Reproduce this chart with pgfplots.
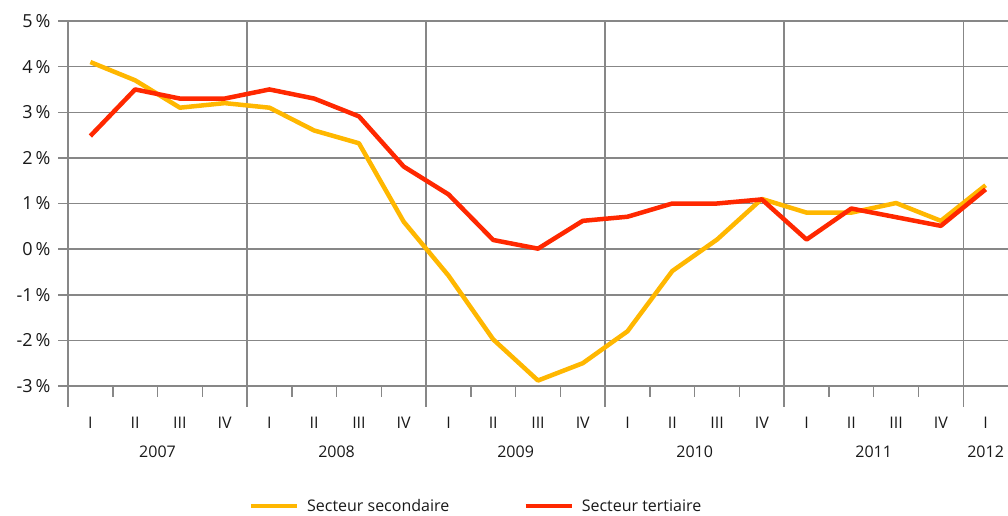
\documentclass[border=0pt]{standalone}
\usepackage{fontspec}
\setmainfont{Open Sans}
\usepackage{pgfplots}
\pgfplotsset{compat=1.18}
\definecolor{sec}{RGB}{255,183,0}
\definecolor{ter}{RGB}{255,40,0}
\definecolor{gridc}{RGB}{135,135,135}
\definecolor{txt}{RGB}{25,25,25}
\begin{document}
\begin{tikzpicture}[font=\fontsize{16}{19}\selectfont]
\useasboundingbox (0pt,0pt) rectangle (1008pt,516pt);
\begin{axis}[
  at={(68pt,130pt)}, anchor=south west,
  scale only axis, width=940pt, height=365pt,
  xmin=-0.5, xmax=20.5, ymin=-3, ymax=5,
  clip=false,
  axis line style={draw=none},
  tick style={draw=none},
  ytick={-3,...,5},
  yticklabels={-3\,\%,-2\,\%,-1\,\%,0\,\%,1\,\%,2\,\%,3\,\%,4\,\%,5\,\%},
  yticklabel style={anchor=east, xshift=-14pt, text=txt, font=\fontsize{18}{21}\selectfont},
  ymajorgrids,
  xtick={0,...,20},
  xticklabels={I,II,III,IV,I,II,III,IV,I,II,III,IV,I,II,III,IV,I,II,III,IV,I},
  xticklabel style={anchor=center, yshift=-36.5pt, text=txt},
  extra x ticks={-0.5,3.5,7.5,11.5,15.5,19.5},
  extra x tick labels={},
  extra x tick style={grid=major},
  grid style={gridc, line width=1.5pt},
  legend columns=2,
  legend style={at={(0.434,-0.329)}, anchor=center, draw=none, fill=none,
    text=txt, /tikz/every even column/.append style={column sep=72pt}},
  legend image code/.code={\draw[#1, line width=4.5pt] (0pt,0pt) -- (46pt,0pt); \path (52pt,0pt);},
]
\addplot[sec, line width=4.5pt, line join=round] coordinates {
(0,4.1) (1,3.7) (2,3.1) (3,3.2)
(4,3.1) (5,2.6) (6,2.32) (7,0.6)
(8,-0.58) (9,-1.98) (10,-2.88) (11,-2.5)
(12,-1.8) (13,-0.48) (14,0.21) (15,1.1)
(16,0.8) (17,0.8) (18,1.01) (19,0.62)
(20,1.4)};
\addlegendentry{Secteur secondaire}
\addplot[ter, line width=4.5pt, line join=round] coordinates {
(0,2.48) (1,3.5) (2,3.3) (3,3.3)
(4,3.5) (5,3.3) (6,2.91) (7,1.81)
(8,1.2) (9,0.2) (10,0.01) (11,0.62)
(12,0.71) (13,1.0) (14,1.0) (15,1.09)
(16,0.21) (17,0.89) (18,0.7) (19,0.51)
(20,1.31)};
\addlegendentry{Secteur tertiaire}
\pgfplotsinvokeforeach{-3,...,5}{\draw[gridc, line width=1.5pt] (axis cs:-0.5,#1) -- ++(-10pt,0pt);}
\pgfplotsinvokeforeach{0.5,1.5,2.5,4.5,5.5,6.5,8.5,9.5,10.5,12.5,13.5,14.5,16.5,17.5,18.5}{\draw[gridc, line width=1.5pt] (axis cs:#1,-3) -- ++(0pt,-11pt);}
\pgfplotsinvokeforeach{-0.5,3.5,7.5,11.5,15.5,19.5}{\draw[gridc, line width=1.5pt] (axis cs:#1,-3) -- ++(0pt,-21pt);}
\node[text=txt, yshift=-65.5pt] at (axis cs:1.5,-3) {2007};
\node[text=txt, yshift=-65.5pt] at (axis cs:5.5,-3) {2008};
\node[text=txt, yshift=-65.5pt] at (axis cs:9.5,-3) {2009};
\node[text=txt, yshift=-65.5pt] at (axis cs:13.5,-3) {2010};
\node[text=txt, yshift=-65.5pt] at (axis cs:17.5,-3) {2011};
\node[text=txt, yshift=-65.5pt] at (axis cs:20,-3) {2012};
\end{axis}
\end{tikzpicture}
\end{document}
